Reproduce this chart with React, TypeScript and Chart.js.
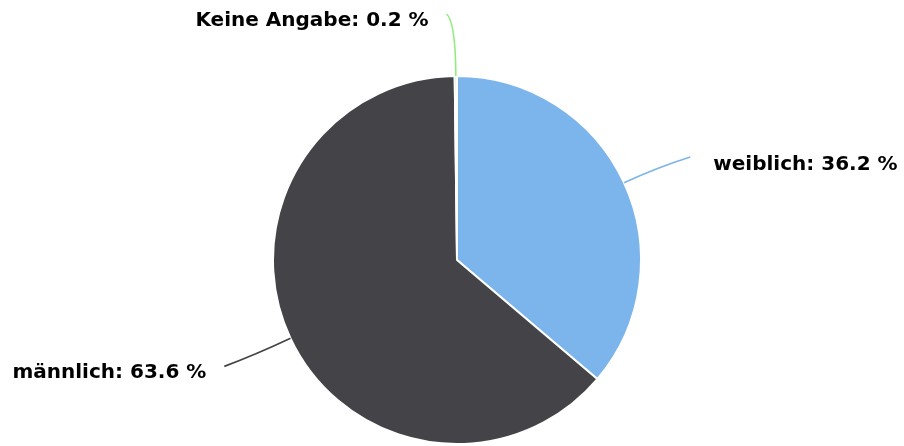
import React, { useEffect, useRef } from "react";
import { Chart, registerables } from "chart.js";

Chart.register(...registerables);

const categories = ["weiblich", "männlich", "Keine Angabe"];
const shares = [36.2, 63.6, 0.2];
const colors = ["#7cb5ec", "#434348", "#90ed7d"];
// per-label tweak of connector end (relative to radial anchor) - style only
const connectorTweaks = [
  [30, -9],
  [-30, 11],
  [-9, -22],
];
const connectorBend = [0.6, 0.6, 0.88];

const labelPlugin = {
  id: "pieLabels",
  afterDatasetsDraw(chart: any) {
    const ctx = chart.ctx as CanvasRenderingContext2D;
    const meta = chart.getDatasetMeta(0);
    ctx.save();
    ctx.font = "bold 20px 'DejaVu Sans'";
    ctx.textBaseline = "alphabetic";
    meta.data.forEach((arc: any, i: number) => {
      const { x, y, outerRadius, startAngle, endAngle } = arc.getProps(
        ["x", "y", "outerRadius", "startAngle", "endAngle"],
        true
      );
      const mid = (startAngle + endAngle) / 2;
      const dx = Math.cos(mid);
      const dy = Math.sin(mid);
      const S = { x: x + outerRadius * dx, y: y + outerRadius * dy };
      const A = { x: x + (outerRadius + 40) * dx, y: y + (outerRadius + 40) * dy };
      const E = { x: A.x + connectorTweaks[i][0], y: A.y + connectorTweaks[i][1] };
      let t = Math.abs(dy) > 1e-3 ? (E.y - S.y) / dy : 0;
      if (t < 0) t = 0;
      t *= connectorBend[i];
      const C = { x: S.x + t * dx, y: S.y + t * dy };
      ctx.strokeStyle = colors[i];
      ctx.lineWidth = 1.6;
      ctx.beginPath();
      ctx.moveTo(S.x, S.y);
      ctx.quadraticCurveTo(C.x, C.y, E.x, E.y);
      ctx.stroke();
      const text = `${categories[i]}: ${shares[i]} %`;
      ctx.fillStyle = "#000000";
      const right = E.x > x;
      if (right) {
        ctx.textAlign = "left";
        ctx.fillText(text, E.x + 23, E.y + 13);
      } else {
        ctx.textAlign = "right";
        ctx.fillText(text, E.x - 18, E.y + 12);
      }
    });
    ctx.restore();
  },
};

export default function App() {
  const ref = useRef<HTMLCanvasElement | null>(null);
  useEffect(() => {
    if (!ref.current) return;
    const chart = new Chart(ref.current, {
      type: "pie",
      data: {
        labels: categories,
        datasets: [
          {
            data: shares,
            backgroundColor: colors,
            borderColor: "#ffffff",
            borderWidth: 2,
          },
        ],
      },
      options: {
        animation: false,
        responsive: true,
        maintainAspectRatio: false,
        layout: { padding: { top: 75, bottom: 1, left: 10, right: 0 } },
        plugins: { legend: { display: false }, tooltip: { enabled: false } },
      },
      plugins: [labelPlugin],
    });
    return () => chart.destroy();
  }, []);
  return (
    <div style={{ position: "absolute", left: 0, top: 0, width: 904, height: 446, background: "#fff" }}>
      <canvas ref={ref} />
    </div>
  );
}
